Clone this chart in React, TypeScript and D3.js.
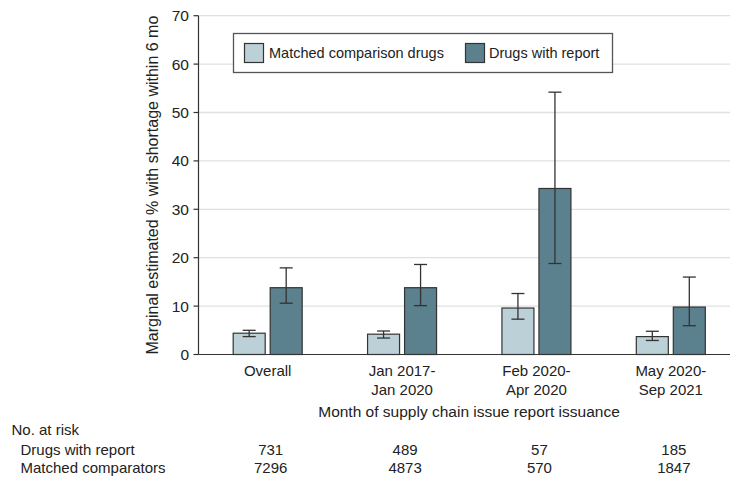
import React from "react";
import * as d3 from "d3";

const categories = ["Overall", "Jan 2017-Jan 2020", "Feb 2020-Apr 2020", "May 2020-Sep 2021"];
const categoryLines = [["Overall"], ["Jan 2017-", "Jan 2020"], ["Feb 2020-", "Apr 2020"], ["May 2020-", "Sep 2021"]];
const seriesNames = ["Matched comparison drugs", "Drugs with report"];
const matchedValues = [4.4, 4.2, 9.6, 3.7];
const matchedLow = [3.7, 3.4, 7.3, 2.9];
const matchedHigh = [5.0, 4.85, 12.6, 4.8];
const reportValues = [13.8, 13.8, 34.3, 9.8];
const reportLow = [10.6, 10.1, 18.8, 5.95];
const reportHigh = [17.9, 18.6, 54.2, 16.0];
const yTicks = [0, 10, 20, 30, 40, 50, 60, 70];
const riskWithReport = [731, 489, 57, 185];
const riskMatched = [7296, 4873, 570, 1847];

const W = 731;
const H = 478;
const FONT = "'Liberation Sans', Arial, sans-serif";
const LIGHT = "#bcd0d8";
const DARK = "#5b808e";
const STROKE = "#333";

export default function App() {
  const y = d3.scaleLinear().domain([0, 70]).range([354.5, 15.7]);
  const x = d3.scaleBand().domain(categories).range([200.5, 738]).padding(0);
  const sub = d3.scaleBand().domain(seriesNames).range([-34.5, 34.5]).paddingInner(5 / 37);
  const bw = sub.bandwidth();
  const plotLeft = 198.5;
  const plotRight = 730;
  const series = [
    { name: seriesNames[0], vals: matchedValues, lo: matchedLow, hi: matchedHigh, fill: LIGHT },
    { name: seriesNames[1], vals: reportValues, lo: reportLow, hi: reportHigh, fill: DARK },
  ];
  const cx = (c: string) => (x(c) as number) + x.bandwidth() / 2;

  return (
    <svg width={W} height={H} style={{ position: "absolute", left: 0, top: 0, background: "#fff" }} fontFamily={FONT}>
      {/* gridlines */}
      {yTicks.filter((t) => t > 0).map((t) => (
        <line key={"g" + t} x1={plotLeft} x2={plotRight} y1={y(t)} y2={y(t)} stroke="#e0e0e0" strokeWidth={1.3} />
      ))}
      {/* y axis */}
      <line x1={plotLeft} x2={plotLeft} y1={y(70)} y2={y(0)} stroke={STROKE} strokeWidth={1.2} />
      {yTicks.map((t) => (
        <g key={"t" + t}>
          <line x1={plotLeft - 5} x2={plotLeft} y1={y(t)} y2={y(t)} stroke={STROKE} strokeWidth={1.2} />
          <text x={189} y={y(t)} dy="0.35em" textAnchor="end" fontSize={15.5} fill="#222">
            {t}
          </text>
        </g>
      ))}
      <text
        transform={`translate(158,${(y(0) + y(70)) / 2}) rotate(-90)`}
        textAnchor="middle"
        fontSize={16}
        fill="#222"
      >
        Marginal estimated % with shortage within 6 mo
      </text>
      {/* bars */}
      {series.map((s) =>
        categories.map((c, i) => {
          const bx = cx(c) + (sub(s.name) as number);
          const mid = bx + bw / 2;
          return (
            <g key={s.name + c}>
              <rect x={bx} y={y(s.vals[i])} width={bw} height={y(0) - y(s.vals[i])} fill={s.fill} stroke={STROKE} strokeWidth={1.2} />
              <line x1={mid} x2={mid} y1={y(s.hi[i])} y2={y(s.lo[i])} stroke={STROKE} strokeWidth={1.3} />
              <line x1={mid - 6.5} x2={mid + 6.5} y1={y(s.hi[i])} y2={y(s.hi[i])} stroke={STROKE} strokeWidth={1.3} />
              <line x1={mid - 6.5} x2={mid + 6.5} y1={y(s.lo[i])} y2={y(s.lo[i])} stroke={STROKE} strokeWidth={1.3} />
            </g>
          );
        })
      )}
      {/* x axis */}
      <line x1={plotLeft} x2={plotRight} y1={y(0)} y2={y(0)} stroke={STROKE} strokeWidth={1.2} />
      {categories.map((c, i) => (
        <text key={"c" + c} x={cx(c)} y={376} textAnchor="middle" fontSize={15} fill="#222">
          {categoryLines[i].map((l, j) => (
            <tspan key={j} x={cx(c)} dy={j === 0 ? 0 : 19}>
              {l}
            </tspan>
          ))}
        </text>
      ))}
      <text x={469} y={417} textAnchor="middle" fontSize={15.5} fill="#222">
        Month of supply chain issue report issuance
      </text>
      {/* legend */}
      <rect x={233.5} y={33.5} width={379} height={39} fill="#fff" stroke="#555" strokeWidth={1.3} />
      <rect x={244.5} y={43.5} width={19} height={19} fill={LIGHT} stroke={STROKE} strokeWidth={1.2} />
      <text x={269} y={53} dy="0.35em" fontSize={14.5} fill="#222">
        {seriesNames[0]}
      </text>
      <rect x={465.5} y={43.5} width={19} height={19} fill={DARK} stroke={STROKE} strokeWidth={1.2} />
      <text x={489} y={53} dy="0.35em" fontSize={14.5} fill="#222">
        {seriesNames[1]}
      </text>
      {/* number at risk */}
      <text x={11.5} y={435} fontSize={15} fill="#222">No. at risk</text>
      <text x={20.5} y={455} fontSize={15} fill="#222">Drugs with report</text>
      <text x={20.5} y={473} fontSize={15} fill="#222">Matched comparators</text>
      {categories.map((c, i) => (
        <g key={"r" + c}>
          <text x={cx(c) + 3} y={455} textAnchor="middle" fontSize={15} fill="#222">
            {riskWithReport[i]}
          </text>
          <text x={cx(c) + 3} y={473} textAnchor="middle" fontSize={15} fill="#222">
            {riskMatched[i]}
          </text>
        </g>
      ))}
    </svg>
  );
}
